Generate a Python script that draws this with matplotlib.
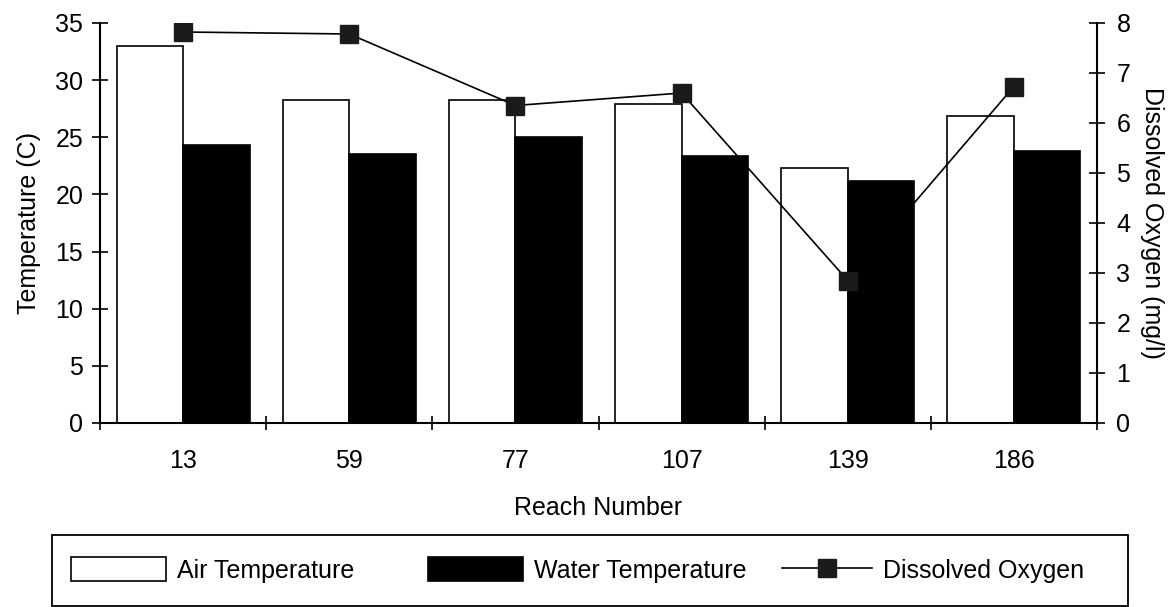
import numpy as np
import matplotlib
matplotlib.use('Agg')
import matplotlib.pyplot as plt
from matplotlib.patches import Rectangle

# values
reaches = ['13', '59', '77', '107', '139', '186']
air_temp = [33.0, 28.3, 28.3, 27.9, 22.3, 26.9]
water_temp = [24.3, 23.5, 25.0, 23.4, 21.2, 23.8]
diss_oxygen = [7.82, 7.78, 6.35, 6.6, 2.85, 6.73]

plt.rcParams['font.family'] = ['Liberation Sans', 'DejaVu Sans']
plt.rcParams['font.size'] = 18

W, H = 1169, 607
fig = plt.figure(figsize=(W/100, H/100), dpi=100)
ax = fig.add_axes([100/W, 1 - 423/H, 997/W, 400/H])

x = np.arange(len(reaches))
w = 0.4
ax.bar(x - w/2, air_temp, w, color='white', edgecolor='black', linewidth=1.2,
       label='Air Temperature')
ax.bar(x + w/2, water_temp, w, color='black', edgecolor='black', linewidth=1.2,
       label='Water Temperature')

ax.set_xlim(-0.5, len(reaches) - 0.5)
ax.set_ylim(0, 35)
ax.set_yticks(np.arange(0, 36, 5))
ax.set_xticks(x)
ax.set_xticklabels(reaches)
ax.set_xticks(np.arange(-0.5, len(reaches)), minor=True)
ax.tick_params(axis='x', which='major', length=0, pad=19)
ax.tick_params(axis='x', which='minor', direction='inout', length=10, width=1.2)
ax.tick_params(axis='y', direction='inout', length=12, width=1.2, pad=6)
for s in ['top', 'right']:
  ax.spines[s].set_visible(False)
for s in ['left', 'bottom']:
  ax.spines[s].set_linewidth(1.5)
ax.set_xlabel('Reach Number', labelpad=16)
ax.set_ylabel('Temperature (C)', labelpad=10)

ax2 = ax.twinx()
ax2.plot(x, diss_oxygen, color='black', linewidth=1.2, marker='s',
         markersize=13, markerfacecolor='#1a1a1a', markeredgecolor='#1a1a1a',
         label='Dissolved Oxygen')
ax2.set_ylim(0, 8)
ax2.set_yticks(np.arange(0, 9, 1))
ax2.tick_params(axis='y', direction='inout', length=12, width=1.2, pad=8)
for s in ['top', 'left', 'bottom']:
  ax2.spines[s].set_visible(False)
ax2.spines['right'].set_linewidth(1.5)
ax2.set_ylabel('Dissolved Oxygen (mg/l)', rotation=270, labelpad=24)

# legend: box plus three entries placed like the original
fig.patches.append(Rectangle((52/W, 1 - 606/H), 1076/W, 71/H, transform=fig.transFigure,
                             facecolor='none', edgecolor='black', linewidth=1.3))
handles = ax.get_legend_handles_labels()[0] + ax2.get_legend_handles_labels()[0]
labels = ['Air Temperature', 'Water Temperature', 'Dissolved Oxygen']
starts = [71, 428, 782]
hlens = [3.8, 3.8, 3.6]
for h, l, x0, hl in zip(handles, labels, starts, hlens):
  fig.legend([h], [l], loc='center left', bbox_to_anchor=(x0/W, 1 - 570/H),
             frameon=False, borderpad=0, borderaxespad=0, handlelength=hl,
             handleheight=1.1, handletextpad=0.45)

fig.savefig('out.png', dpi=100)
